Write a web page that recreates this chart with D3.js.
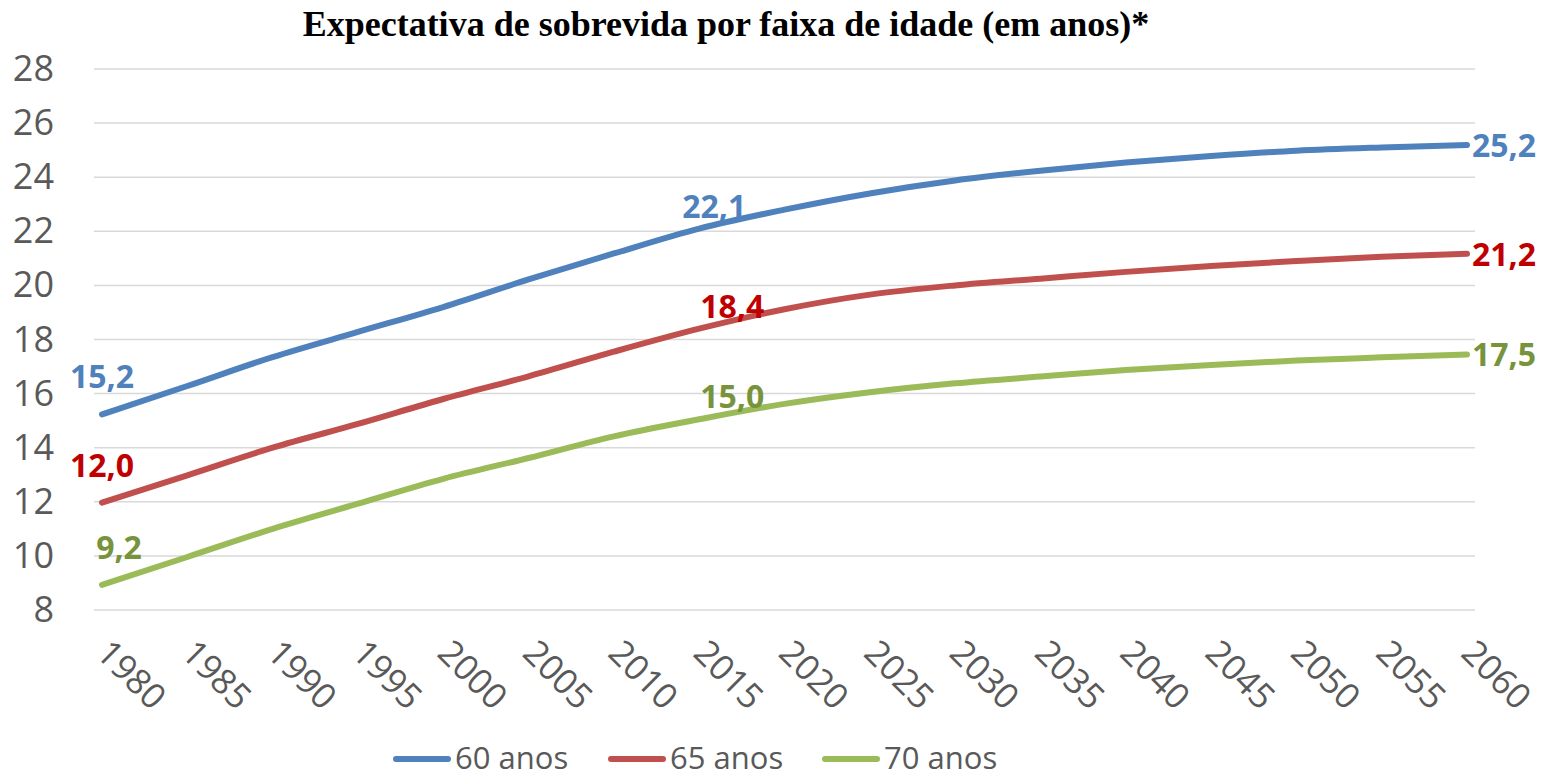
<html>
<head>
<meta charset="utf-8">
<script src="https://d3js.org/d3.v7.min.js"></script>
<style>
  body { margin: 0; background: #fff; }
  text { font-family: "Open Sans", sans-serif; }
</style>
</head>
<body>
<div id="chart"></div>
<script>
// data
var years = [1980, 1985, 1990, 1995, 2000, 2005, 2010, 2015, 2020, 2025, 2030, 2035, 2040, 2045, 2050, 2055, 2060];
var anos60 = [15.23, 16.28, 17.35, 18.28, 19.2, 20.22, 21.18, 22.1, 22.8, 23.4, 23.88, 24.24, 24.54, 24.78, 24.98, 25.1, 25.19];
var anos65 = [11.97, 12.98, 14.0, 14.88, 15.8, 16.64, 17.55, 18.4, 19.12, 19.66, 20.0, 20.25, 20.5, 20.72, 20.9, 21.06, 21.17];
var anos70 = [8.93, 9.96, 11.0, 11.93, 12.85, 13.62, 14.42, 15.05, 15.62, 16.05, 16.38, 16.63, 16.87, 17.06, 17.22, 17.34, 17.45];
var seriesNames = ["60 anos", "65 anos", "70 anos"];
var yTicks = [8, 10, 12, 14, 16, 18, 20, 22, 24, 26, 28];
// value labels: [series, year, text]
var labels = [
  [0, 1980, "15,2"], [0, 2015, "22,1"], [0, 2060, "25,2"],
  [1, 1980, "12,0"], [1, 2015, "18,4"], [1, 2060, "21,2"],
  [2, 1980, "9,2"], [2, 2015, "15,0"], [2, 2060, "17,5"]
];

var W = 1552, H = 779;
var lineColors = ["#4f81bd", "#c0504d", "#9bbb59"];
var labelColors = ["#4f81bd", "#c00000", "#77933c"];
var all = [anos60, anos65, anos70];

var svg = d3.select("#chart").append("svg")
  .attr("width", W).attr("height", H);

svg.append("text")
  .attr("x", 726).attr("y", 36)
  .attr("text-anchor", "middle")
  .style("font-family", "'Liberation Serif', 'Times New Roman', serif")
  .style("font-weight", "bold")
  .style("font-size", "36px")
  .attr("fill", "#000")
  .text("Expectativa de sobrevida por faixa de idade (em anos)*");

var x = d3.scalePoint().domain(years).range([102, 1467]);
var y = d3.scaleLinear().domain([8, 28]).range([610, 69]);

// grid
svg.append("g").selectAll("line")
  .data(yTicks).enter().append("line")
  .attr("x1", 94).attr("x2", 1475)
  .attr("y1", d => y(d)).attr("y2", d => y(d))
  .attr("stroke", "#d9d9d9").attr("stroke-width", 1.5);

// y axis labels
var yAxis = svg.append("g")
  .attr("transform", "translate(54,0)")
  .call(d3.axisLeft(y).tickValues(yTicks).tickSize(0).tickPadding(0));
yAxis.select(".domain").remove();
yAxis.selectAll("text")
  .style("font-family", "'Open Sans', sans-serif")
  .style("font-size", "36px")
  .attr("fill", "#595959");

// x axis labels
var xAxis = svg.append("g")
  .attr("transform", "translate(0,655)")
  .call(d3.axisBottom(x).tickSize(0).tickPadding(0));
xAxis.select(".domain").remove();
xAxis.selectAll("text")
  .style("font-family", "'Open Sans', sans-serif")
  .style("font-size", "35px")
  .attr("fill", "#595959")
  .attr("text-anchor", "start")
  .attr("dy", "0")
  .attr("y", 0)
  .attr("transform", "translate(-8,0) rotate(45)");

var line = d3.line()
  .x((d, i) => x(years[i]))
  .y(d => y(d))
  .curve(d3.curveMonotoneX);

svg.append("g").selectAll("path")
  .data(all).enter().append("path")
  .attr("d", d => line(d))
  .attr("fill", "none")
  .attr("stroke", (d, i) => lineColors[i])
  .attr("stroke-width", 6)
  .attr("stroke-linecap", "round")
  .attr("stroke-linejoin", "round");

// data labels
svg.append("g").selectAll("text")
  .data(labels).enter().append("text")
  .attr("x", d => {
    var px = x(d[1]);
    if (d[1] === 2060) return px + 5;
    if (d[1] === 1980) return px + (d[0] === 2 ? 17 : 0);
    return px + (d[0] === 0 ? 15 : 33);
  })
  .attr("y", d => {
    var py = y(all[d[0]][years.indexOf(d[1])]);
    if (d[1] === 2060) return py + 12;
    if (d[1] === 1980) return py - 26;
    return py - 11;
  })
  .attr("text-anchor", d => d[1] === 2060 ? "start" : "middle")
  .style("font-family", "'Open Sans', sans-serif")
  .style("font-weight", "bold")
  .style("font-size", "32px")
  .attr("fill", d => labelColors[d[0]])
  .text(d => d[2]);

// legend
var legX = [394, 609, 823];
var leg = svg.append("g").selectAll("g")
  .data(seriesNames).enter().append("g")
  .attr("transform", (d, i) => "translate(" + legX[i] + ",759)");
leg.append("line")
  .attr("x1", 2).attr("x2", 54)
  .attr("stroke", (d, i) => lineColors[i])
  .attr("stroke-width", 6)
  .attr("stroke-linecap", "round");
leg.append("text")
  .attr("x", 61).attr("y", 10)
  .style("font-family", "'Open Sans', sans-serif")
  .style("font-size", "31px")
  .attr("fill", "#595959")
  .text(d => d);
</script>
</body>
</html>
